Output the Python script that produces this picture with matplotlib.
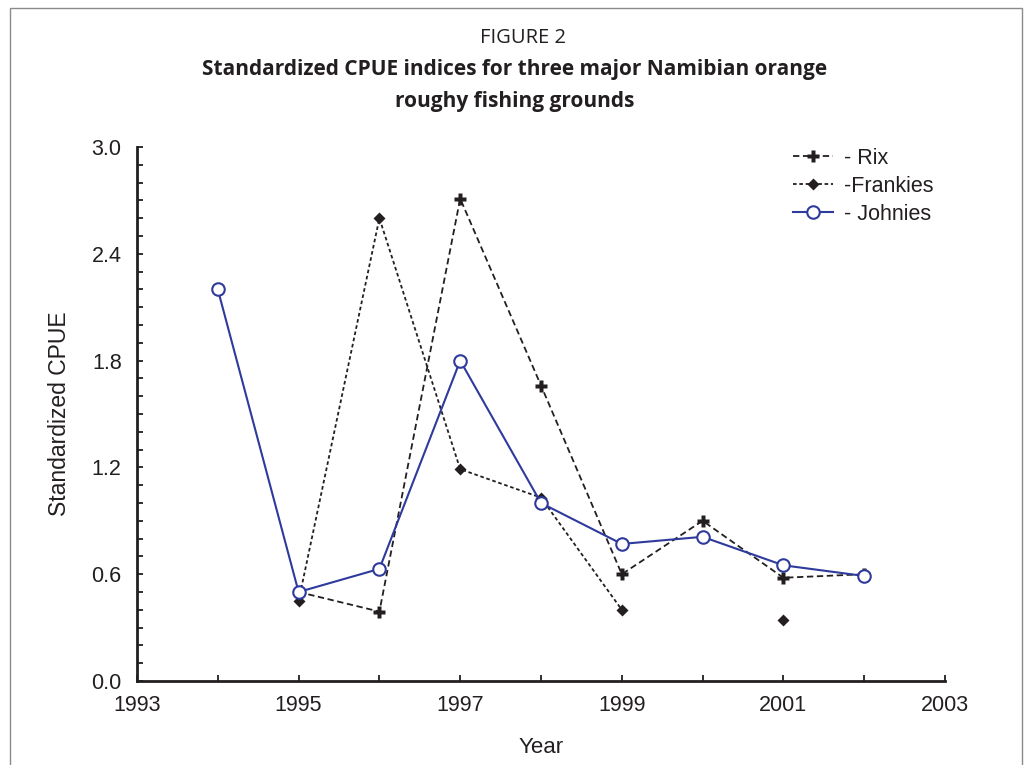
import matplotlib
matplotlib.use("Agg")
import matplotlib.pyplot as plt
import numpy as np
from matplotlib.patches import Rectangle
from matplotlib.ticker import MultipleLocator, FormatStrFormatter

# CPUE series by fishing ground (nan = no survey that year)
years = [1994, 1995, 1996, 1997, 1998, 1999, 2000, 2001, 2002]
rix = [np.nan, 0.50, 0.39, 2.71, 1.66, 0.60, 0.90, 0.58, 0.60]
frankies = [np.nan, 0.45, 2.60, 1.19, 1.03, 0.40, np.nan, 0.34, np.nan]
johnies = [2.20, 0.50, 0.63, 1.80, 1.00, 0.77, 0.81, 0.65, 0.59]

ink = '#231f20'
blue = '#2e3a9c'
title_font = ['Open Sans', 'DejaVu Sans']

plt.rcParams['font.family'] = ['Liberation Sans', 'DejaVu Sans']

fig = plt.figure(figsize=(10.3, 7.65), dpi=100)
fig.patches.append(Rectangle((10 / 1030, -0.1), 1012 / 1030, 1.1 - 8 / 765,
                             transform=fig.transFigure, fill=False,
                             edgecolor='#8a8a8a', lw=1.0))

fig.text(0.508, 1 - 38 / 765, 'FIGURE 2', ha='center', va='center',
         fontsize=14.5, family=title_font, color=ink)
fig.text(0.5, 1 - 70 / 765, 'Standardized CPUE indices for three major Namibian orange',
         ha='center', va='center', fontsize=15, fontweight='bold',
         family=title_font, color=ink)
fig.text(0.5, 1 - 101 / 765, 'roughy fishing grounds',
         ha='center', va='center', fontsize=15, fontweight='bold',
         family=title_font, color=ink)

ax = fig.add_axes([137 / 1030, 1 - 681 / 765, 808 / 1030, 534 / 765])

ax.plot(years, rix, color=ink, lw=1.3, dashes=(3.5, 2), marker='P',
        ms=8, mfc=ink, mec='none', label='- Rix')
ax.plot(years, frankies, color=ink, lw=1.3, dashes=(2, 1.5), marker='D',
        ms=6, mfc=ink, mec='none', label='-Frankies')
ax.plot(years, johnies, color=blue, lw=1.5, marker='o', ms=9,
        mfc='white', mec=blue, mew=1.5, label='- Johnies')

ax.set_xlim(1993, 2003)
ax.set_ylim(0, 3.0)
ax.xaxis.set_major_locator(MultipleLocator(2, offset=1))
ax.xaxis.set_minor_locator(MultipleLocator(1))
ax.yaxis.set_major_locator(MultipleLocator(0.6))
ax.yaxis.set_minor_locator(MultipleLocator(0.1))
ax.yaxis.set_major_formatter(FormatStrFormatter('%.1f'))
ax.tick_params(which='both', direction='in', length=4, width=1.3,
               color=ink, labelcolor=ink, labelsize=15.5)
ax.tick_params(axis='y', pad=11)
ax.tick_params(axis='x', pad=10)

for side in ['top', 'right']:
    ax.spines[side].set_visible(False)
for side in ['left', 'bottom']:
    ax.spines[side].set_linewidth(2)
    ax.spines[side].set_color(ink)

ax.set_xlabel('Year', fontsize=16, color=ink, labelpad=15)
ax.set_ylabel('Standardized CPUE', fontsize=16.5, color=ink, labelpad=15)

ax.legend(loc='upper right', bbox_to_anchor=(1.01, 1.035), frameon=False,
          fontsize=15.5, handlelength=1.9, handletextpad=0.5, labelspacing=0.33,
          labelcolor=ink)

fig.savefig('out.png', dpi=100)
